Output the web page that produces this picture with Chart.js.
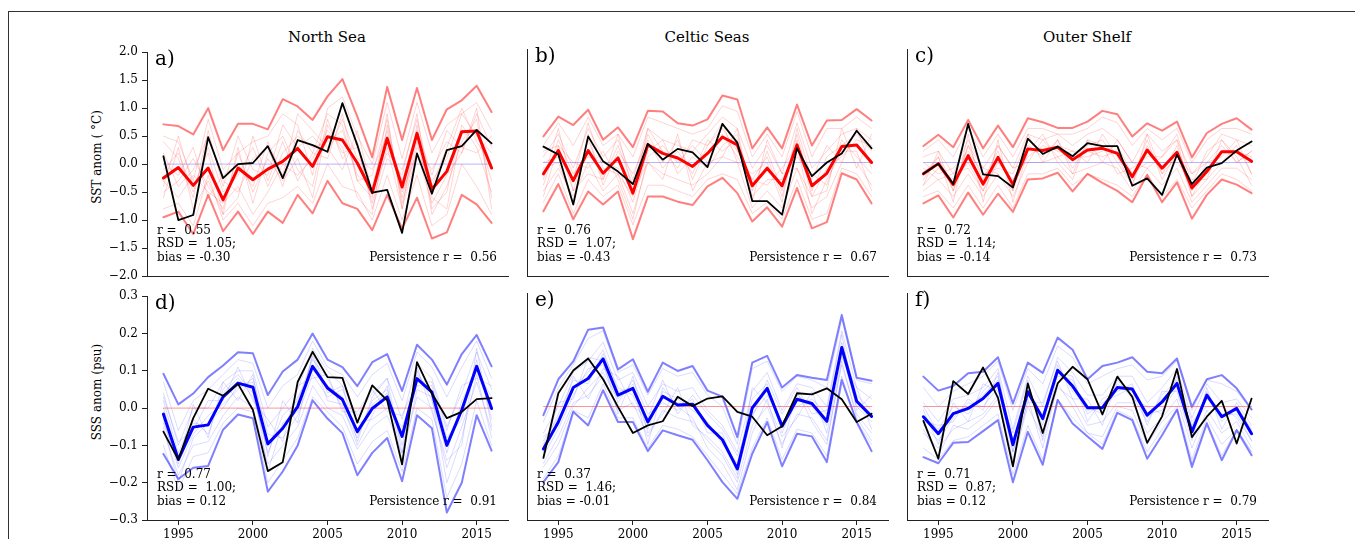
<!DOCTYPE html>
<html>
<head>
<meta charset="utf-8">
<script src="https://cdn.jsdelivr.net/npm/chart.js@4.4.1/dist/chart.umd.min.js"></script>
<style>
  html, body { margin:0; padding:0; background:#fff; }
  body { width:1355px; height:539px; position:relative; overflow:hidden; font-family:"DejaVu Serif", serif; }
  .frame { position:absolute; left:8px; top:11px; right:-5px; bottom:-5px; border-left:1.3px solid #333; border-top:1.3px solid #333; }
  .panel { position:absolute; }
  .title { position:absolute; font-size:15px; color:#000; transform:translateX(-50%); white-space:nowrap; line-height:1; }
  .ylab { position:absolute; font-size:12px; color:#000; white-space:nowrap; transform:translate(-50%,-50%) rotate(-90deg); line-height:1; }
</style>
</head>
<body>
<div class="frame"></div>
<div class="title" style="left:327px; top:30px;">North Sea</div>
<div class="title" style="left:707px; top:30px;">Celtic Seas</div>
<div class="title" style="left:1087px; top:30px;">Outer Shelf</div>
<div class="ylab" style="left:97px; top:157px;">SST anom ( °C)</div>
<div class="ylab" style="left:97px; top:392px;">SSS anom (psu)</div>

<script>
// ---------------- DATA ----------------
const years = [1994,1995,1996,1997,1998,1999,2000,2001,2002,2003,2004,2005,2006,2007,2008,2009,2010,2011,2012,2013,2014,2015,2016];

const sstTicks = [-2.0,-1.5,-1.0,-0.5,0.0,0.5,1.0,1.5,2.0];
const sstTickLabels = ['\u22122.0','\u22121.5','\u22121.0','\u22120.5','0.0','0.5','1.0','1.5','2.0'];
const sssTicks = [-0.3,-0.2,-0.1,0.0,0.1,0.2,0.3];
const sssTickLabels = ['\u22120.3','\u22120.2','\u22120.1','0.0','0.1','0.2','0.3'];
const yearTicks = [1995,2000,2005,2010,2015];
const yearTickLabels = ['1995','2000','2005','2010','2015'];

const panelLetters = ['a)','b)','c)','d)','e)','f)'];
const statR = [' 0.55',' 0.76',' 0.72',' 0.77',' 0.37',' 0.71'];
const statRSD = [' 1.05',' 1.07',' 1.14',' 1.00',' 1.46',' 0.87'];
const statBias = ['-0.30','-0.43','-0.14','0.12','-0.01','0.12'];
const statPersistence = [' 0.56',' 0.67',' 0.73',' 0.91',' 0.84',' 0.79'];

// a) North Sea SST
const nsSstMean  = [-0.25,-0.06,-0.38,-0.07,-0.64,-0.07,-0.28,-0.09,0.05,0.28,-0.04,0.49,0.43,0.02,-0.51,0.46,-0.41,0.55,-0.45,-0.13,0.58,0.59,-0.07];
const nsSstUpper = [0.71,0.68,0.53,1.0,0.25,0.72,0.72,0.62,1.16,1.03,0.79,1.21,1.52,0.85,0.12,1.38,0.43,1.36,0.43,0.98,1.14,1.4,0.93];
const nsSstLower = [-0.95,-0.85,-1.25,-0.55,-1.2,-0.85,-1.25,-0.85,-1.05,-0.55,-0.88,-0.3,-0.7,-0.8,-1.18,-0.55,-1.15,-0.6,-1.33,-1.22,-0.55,-0.72,-1.05];
const nsSstObs   = [0.14,-1.0,-0.91,0.48,-0.25,0.0,0.02,0.32,-0.25,0.43,0.34,0.22,1.09,0.34,-0.51,-0.46,-1.23,0.19,-0.53,0.25,0.32,0.61,0.37];
const nsSstMembers = [
  [0.2,-0.4,-0.1,0.5,-0.3,-0.5,0.1,0.3,-0.4,0.6,0.2,0.1,0.9,-0.3,-0.2,0.8,-0.7,0.3,-0.1,0.4,0.2,0.9,0.3],
  [-0.6,0.3,-0.8,-0.3,-0.9,0.3,-0.7,0.2,0.5,-0.1,-0.4,0.8,0.1,0.4,-0.8,0.1,-0.2,0.9,-0.8,-0.5,0.7,0.3,-0.5],
  [-0.1,0.2,-0.5,0.3,-0.5,-0.2,0.3,-0.4,0.2,0.5,0.3,0.4,0.6,-0.2,-0.4,0.6,-0.5,0.2,-0.3,0.1,0.9,0.5,0.2],
  [-0.5,-0.3,0.1,-0.4,-0.8,0.2,-0.5,0.1,-0.3,0.1,-0.6,0.7,0.2,0.3,-0.7,0.3,-0.8,0.7,-0.9,-0.4,0.4,0.8,-0.6],
  [0.4,0.1,-0.6,0.6,-0.4,0.5,-0.1,-0.2,0.7,0.3,0.5,0.2,0.8,0.1,-0.1,0.5,-0.3,0.6,-0.2,0.6,0.3,0.2,0.5],
  [-0.3,-0.6,-0.2,-0.5,-0.7,-0.4,-0.9,-0.5,0.0,-0.2,0.1,0.6,0.3,-0.6,-0.9,0.7,-0.6,0.4,-0.6,-0.8,0.6,0.6,-0.3],
  [0.5,0.4,-0.3,0.8,-0.1,0.2,0.4,0.5,0.9,0.7,-0.2,1.0,1.2,0.5,0.0,1.1,0.1,1.1,0.2,0.7,0.9,1.1,0.6],
  [-0.8,-0.7,-1.1,-0.2,-1.0,-0.7,-1.1,-0.7,-0.6,-0.4,-0.7,0.0,-0.4,-0.5,-1.0,-0.2,-1.0,-0.2,-1.1,-0.9,0.0,-0.4,-0.9],
  [0.0,-0.2,0.3,-0.6,-0.2,0.0,-0.4,0.4,-0.2,0.9,0.6,0.3,-0.1,0.6,-0.5,0.2,-0.1,0.8,-0.4,0.3,1.0,0.4,0.0],
  [-0.4,0.5,-0.4,0.2,-0.9,-0.6,0.5,-0.3,0.4,-0.3,0.2,0.9,0.7,-0.3,-0.6,0.9,-0.8,0.2,-0.7,-0.2,0.2,1.0,-0.8]
];

// b) Celtic Seas SST
const csSstMean  = [-0.2,0.21,-0.32,0.21,-0.19,0.08,-0.54,0.31,0.16,0.08,-0.07,0.16,0.45,0.31,-0.41,-0.1,-0.41,0.31,-0.41,-0.19,0.28,0.31,0.0];
const csSstUpper = [0.46,0.81,0.66,0.93,0.4,0.62,0.27,0.91,0.9,0.69,0.65,0.76,1.18,1.11,0.25,0.62,0.25,1.02,0.3,0.74,0.75,0.94,0.74];
const csSstLower = [-0.86,-0.38,-1.0,-0.51,-0.74,-0.51,-1.35,-0.6,-0.6,-0.69,-0.75,-0.42,-0.27,-0.54,-1.04,-0.79,-1.13,-0.45,-1.16,-1.05,-0.19,-0.3,-0.72];
const csSstObs   = [0.28,0.14,-0.74,0.46,0.02,-0.16,-0.38,0.33,0.05,0.24,0.18,-0.08,0.68,0.35,-0.68,-0.68,-0.92,0.25,-0.24,0.0,0.16,0.56,0.25];
const csSstMembers = [
  [0.1,0.5,-0.1,0.6,0.1,0.4,-0.3,0.6,0.4,0.3,0.2,0.5,0.8,0.6,-0.1,0.3,-0.2,0.7,-0.1,0.2,0.5,0.6,0.4],
  [-0.5,-0.1,-0.6,0.0,-0.5,-0.2,-0.9,0.0,-0.2,-0.3,-0.4,-0.2,0.1,0.0,-0.8,-0.5,-0.8,-0.1,-0.8,-0.6,0.0,0.0,-0.4],
  [0.2,0.3,-0.5,0.4,-0.3,0.3,-0.4,0.5,0.0,0.4,-0.3,0.3,0.6,0.2,-0.3,0.1,-0.6,0.5,-0.5,0.1,0.3,0.5,0.2],
  [-0.4,0.4,-0.2,0.1,0.0,-0.1,-0.7,0.2,0.4,-0.2,0.1,-0.1,0.3,0.5,-0.6,-0.3,-0.3,0.1,-0.2,-0.4,0.4,0.1,-0.2],
  [-0.1,0.0,-0.7,0.5,-0.4,0.2,-0.2,0.4,-0.1,0.2,-0.2,0.4,0.2,0.4,-0.5,0.2,-0.5,0.4,-0.6,-0.1,0.1,0.4,0.3],
  [-0.6,0.3,0.0,-0.1,0.2,-0.3,-1.0,0.1,0.3,0.0,0.3,0.0,0.5,0.1,-0.3,-0.4,-0.1,0.3,-0.9,-0.3,0.2,0.2,-0.5],
  [0.3,0.7,0.3,0.8,0.3,0.5,0.1,0.8,0.7,0.6,0.5,0.6,1.0,0.9,0.1,0.5,0.1,0.9,0.1,0.6,0.6,0.8,0.6],
  [-0.7,-0.2,-0.9,-0.3,-0.6,-0.4,-1.1,-0.4,-0.4,-0.5,-0.6,-0.3,-0.2,-0.3,-0.9,-0.7,-1.0,-0.3,-1.0,-0.9,-0.1,-0.2,-0.6],
  [0.0,0.1,-0.3,0.7,-0.1,-0.2,-0.6,0.6,0.2,-0.1,0.4,0.3,0.7,0.0,-0.2,0.0,-0.7,0.6,-0.3,0.3,0.0,0.6,-0.1],
  [-0.3,0.6,-0.5,-0.2,-0.3,0.5,-0.5,0.0,-0.3,0.5,-0.5,0.0,0.1,0.6,-0.7,0.4,-0.2,-0.1,-0.6,-0.5,0.6,-0.1,0.5]
];

// c) Outer Shelf SST
const osSstMean  = [-0.2,-0.02,-0.39,0.12,-0.38,0.09,-0.39,0.24,0.21,0.27,0.05,0.22,0.25,0.16,-0.25,0.22,-0.1,0.18,-0.45,-0.16,0.19,0.19,0.02];
const osSstUpper = [0.29,0.49,0.27,0.75,0.25,0.65,0.27,0.78,0.71,0.61,0.61,0.72,0.91,0.85,0.46,0.69,0.56,0.72,0.09,0.52,0.68,0.78,0.58];
const osSstLower = [-0.72,-0.58,-0.97,-0.53,-0.92,-0.55,-0.87,-0.3,-0.28,-0.18,-0.51,-0.2,-0.36,-0.5,-0.7,-0.22,-0.7,-0.35,-0.99,-0.57,-0.3,-0.39,-0.54];
const osSstObs   = [-0.2,-0.02,-0.38,0.68,-0.21,-0.24,-0.44,0.42,0.15,0.28,0.11,0.34,0.29,0.29,-0.41,-0.28,-0.57,0.14,-0.38,-0.09,-0.01,0.21,0.37];
const osSstMembers = [
  [0.1,0.2,-0.2,0.4,-0.1,0.3,-0.1,0.5,0.4,0.5,0.3,0.5,0.6,0.4,0.0,0.5,0.2,0.4,-0.2,0.1,0.5,0.4,0.3],
  [-0.5,-0.3,-0.6,-0.2,-0.6,-0.2,-0.6,0.0,0.0,0.1,-0.2,-0.1,0.0,-0.1,-0.5,-0.1,-0.4,-0.1,-0.7,-0.4,-0.1,-0.1,-0.3],
  [-0.2,0.1,-0.5,0.3,-0.3,0.2,-0.5,0.3,0.1,0.4,-0.1,0.3,0.4,0.0,-0.4,0.3,-0.2,0.3,-0.5,0.0,0.3,0.0,0.2],
  [-0.4,-0.1,-0.3,0.0,-0.5,0.0,-0.3,0.1,0.3,0.2,0.1,0.1,0.2,0.3,-0.2,0.0,0.0,0.0,-0.3,-0.3,0.0,0.3,-0.2],
  [0.0,-0.2,-0.1,0.2,-0.2,-0.1,-0.2,0.4,0.2,0.3,0.2,0.2,0.1,0.2,-0.3,0.4,-0.3,0.2,-0.6,-0.1,0.2,0.2,0.1],
  [-0.3,0.1,-0.7,0.5,-0.7,0.4,-0.7,0.2,0.5,0.0,-0.3,0.4,0.3,-0.2,-0.1,0.1,0.1,0.5,-0.4,0.2,0.4,0.1,-0.4],
  [0.2,0.4,0.1,0.6,0.1,0.5,0.1,0.6,0.6,0.5,0.5,0.6,0.8,0.7,0.3,0.6,0.4,0.6,0.0,0.4,0.6,0.6,0.5],
  [-0.6,-0.5,-0.8,-0.4,-0.8,-0.4,-0.8,-0.2,-0.2,-0.1,-0.4,-0.2,-0.3,-0.4,-0.6,-0.2,-0.6,-0.3,-0.8,-0.5,-0.2,-0.3,-0.5],
  [-0.1,-0.3,-0.2,-0.1,-0.5,0.3,-0.1,0.0,0.4,0.1,0.2,0.0,0.5,0.1,-0.4,0.5,-0.2,0.1,-0.2,0.0,0.1,0.4,-0.2],
  [-0.4,0.2,-0.5,0.3,-0.1,-0.2,-0.5,0.5,0.0,0.4,-0.2,0.4,0.0,0.4,0.0,-0.1,0.1,0.4,-0.6,-0.3,0.4,0.0,0.2]
];

// d) North Sea SSS
const nsSssMean  = [-0.016,-0.138,-0.051,-0.045,0.03,0.067,0.056,-0.096,-0.054,0.004,0.112,0.054,0.023,-0.063,-0.001,0.03,-0.076,0.079,0.043,-0.1,-0.005,0.112,-0.001];
const nsSssUpper = [0.092,0.01,0.039,0.083,0.114,0.15,0.147,0.035,0.098,0.13,0.2,0.13,0.11,0.059,0.123,0.145,0.046,0.17,0.13,0.063,0.145,0.196,0.112];
const nsSssLower = [-0.123,-0.19,-0.16,-0.155,-0.058,-0.017,-0.027,-0.224,-0.17,-0.1,0.021,-0.028,-0.067,-0.18,-0.12,-0.08,-0.196,-0.019,-0.054,-0.28,-0.2,-0.019,-0.114];
const nsSssObs   = [-0.063,-0.138,-0.027,0.052,0.033,0.065,-0.005,-0.169,-0.145,0.07,0.151,0.083,0.081,-0.039,0.061,0.021,-0.151,0.123,0.039,-0.027,-0.01,0.024,0.027];
const nsSssMembers = [
  [0.04,-0.1,0.0,0.0,0.07,0.1,0.1,-0.05,0.0,0.05,0.16,0.1,0.06,-0.02,0.04,0.08,-0.03,0.12,0.08,-0.05,0.04,0.15,0.05],
  [-0.06,-0.18,-0.1,-0.09,-0.02,0.03,0.0,-0.15,-0.1,-0.05,0.06,0.0,-0.02,-0.11,-0.05,-0.02,-0.12,0.03,0.0,-0.16,-0.05,0.07,-0.06],
  [0.02,-0.12,-0.03,-0.07,0.05,0.09,0.04,-0.12,-0.02,0.02,0.13,0.08,0.0,-0.08,0.02,0.05,-0.1,0.1,0.02,-0.12,0.02,0.1,0.03],
  [-0.03,-0.16,-0.07,-0.02,0.01,0.05,0.08,-0.07,-0.08,-0.02,0.09,0.03,0.05,-0.04,-0.03,0.0,-0.05,0.06,0.06,-0.08,-0.03,0.13,-0.03],
  [0.0,-0.13,-0.04,-0.05,0.04,0.08,0.03,-0.1,-0.06,0.03,0.1,0.06,0.03,-0.07,0.01,0.04,-0.08,0.09,0.04,-0.1,0.0,0.11,0.01],
  [-0.05,-0.2,-0.08,-0.04,0.0,0.06,0.07,-0.17,-0.04,-0.01,0.14,0.02,0.01,-0.1,-0.02,0.06,-0.14,0.05,0.03,-0.2,-0.08,0.09,-0.08],
  [0.07,-0.06,0.02,0.05,0.09,0.13,0.12,0.0,0.06,0.09,0.18,0.11,0.09,0.03,0.09,0.12,0.02,0.15,0.11,0.03,0.11,0.18,0.08],
  [-0.1,-0.22,-0.13,-0.12,-0.04,0.0,-0.01,-0.2,-0.14,-0.08,0.03,-0.01,-0.05,-0.15,-0.09,-0.06,-0.17,0.0,-0.03,-0.24,-0.15,0.02,-0.1],
  [0.03,-0.09,-0.06,0.02,0.02,0.11,0.02,-0.03,-0.09,0.06,0.08,0.09,-0.01,-0.01,0.05,-0.01,-0.02,0.07,0.07,-0.06,0.06,0.08,0.06],
  [-0.04,-0.15,0.01,-0.08,0.07,0.02,0.09,-0.13,0.02,-0.04,0.15,0.04,0.06,-0.09,0.03,0.08,-0.12,0.11,-0.01,-0.14,-0.1,0.16,-0.05]
];

// e) Celtic Seas SSS
const csSssMean  = [-0.112,-0.041,0.05,0.074,0.126,0.03,0.048,-0.041,0.027,0.004,0.006,-0.05,-0.088,-0.165,-0.004,0.048,-0.052,0.019,0.008,-0.039,0.156,0.014,-0.026];
const csSssUpper = [-0.023,0.072,0.119,0.203,0.209,0.098,0.125,0.039,0.116,0.094,0.107,0.042,0.026,-0.081,0.116,0.134,0.05,0.083,0.076,0.07,0.242,0.076,0.068];
const csSssLower = [-0.2,-0.147,-0.014,-0.05,0.043,-0.041,-0.041,-0.118,-0.063,-0.076,-0.088,-0.142,-0.2,-0.244,-0.125,-0.041,-0.158,-0.072,-0.079,-0.147,0.07,-0.041,-0.118];
const csSssObs   = [-0.136,0.035,0.095,0.127,0.072,-0.001,-0.07,-0.05,-0.039,0.026,0.001,0.021,0.027,-0.014,-0.027,-0.076,-0.052,0.035,0.032,0.048,0.019,-0.041,-0.019];
const csSssMembers = [
  [-0.07,0.0,0.09,0.12,0.17,0.07,0.09,0.0,0.06,0.04,0.05,-0.01,-0.05,-0.12,0.04,0.09,-0.01,0.06,0.05,0.0,0.2,0.05,0.02],
  [-0.15,-0.08,0.01,0.03,0.08,-0.01,0.01,-0.08,-0.01,-0.03,-0.04,-0.09,-0.13,-0.2,-0.05,0.0,-0.1,-0.02,-0.03,-0.09,0.11,-0.02,-0.07],
  [-0.1,-0.02,0.07,0.06,0.14,0.05,0.03,-0.06,0.04,0.02,-0.01,-0.04,-0.1,-0.15,0.02,0.06,-0.07,0.03,0.0,-0.05,0.17,0.03,-0.01],
  [-0.13,-0.06,0.03,0.1,0.11,0.01,0.07,-0.02,0.01,-0.01,0.02,-0.07,-0.07,-0.18,-0.02,0.03,-0.04,0.0,0.02,-0.02,0.14,0.0,-0.04],
  [-0.09,-0.03,0.05,0.09,0.15,0.04,0.05,-0.04,0.03,0.01,0.0,-0.05,-0.09,-0.16,0.0,0.05,-0.05,0.02,0.01,-0.04,0.16,0.02,-0.02],
  [-0.16,-0.1,0.0,0.05,0.09,0.02,0.06,-0.1,0.05,0.0,-0.03,-0.11,-0.15,-0.22,-0.07,0.02,-0.11,0.04,-0.04,-0.1,0.12,-0.03,-0.09],
  [-0.04,0.05,0.11,0.18,0.2,0.09,0.11,0.03,0.1,0.08,0.09,0.03,0.0,-0.1,0.1,0.12,0.04,0.08,0.07,0.05,0.23,0.07,0.06],
  [-0.19,-0.13,-0.01,-0.03,0.06,-0.03,-0.03,-0.11,-0.05,-0.06,-0.08,-0.13,-0.18,-0.23,-0.11,-0.03,-0.14,-0.06,-0.07,-0.13,0.08,-0.04,-0.1],
  [-0.08,-0.05,0.08,0.02,0.1,0.08,0.0,-0.03,0.07,-0.02,0.03,-0.02,-0.06,-0.13,-0.03,0.07,-0.02,0.05,-0.02,-0.01,0.19,-0.01,0.03],
  [-0.12,0.01,0.02,0.13,0.12,-0.02,0.08,-0.07,-0.02,0.05,-0.05,-0.08,-0.12,-0.19,0.05,0.01,-0.08,-0.03,0.04,-0.07,0.13,0.05,-0.06]
];

// f) Outer Shelf SSS
const osSssMean  = [-0.027,-0.072,-0.019,-0.005,0.021,0.061,-0.101,0.039,-0.032,0.096,0.054,-0.003,-0.003,0.05,0.046,-0.023,0.012,0.061,-0.067,0.03,-0.027,-0.005,-0.072];
const osSssUpper = [0.079,0.042,0.054,0.088,0.092,0.13,0.008,0.116,0.089,0.182,0.15,0.072,0.107,0.116,0.13,0.092,0.088,0.127,-0.001,0.072,0.083,0.048,-0.008];
const osSssLower = [-0.134,-0.15,-0.096,-0.094,-0.065,-0.036,-0.2,-0.067,-0.154,0.017,-0.045,-0.079,-0.112,-0.017,-0.036,-0.138,-0.076,-0.008,-0.16,-0.045,-0.142,-0.063,-0.129];
const osSssObs   = [-0.038,-0.138,0.067,0.033,0.103,0.023,-0.158,0.061,-0.07,0.061,0.105,0.072,-0.021,0.079,0.026,-0.096,-0.026,0.099,-0.081,-0.027,0.015,-0.098,0.021];
const osSssMembers = [
  [0.01,-0.04,0.02,0.03,0.05,0.1,-0.06,0.08,0.0,0.13,0.09,0.03,0.03,0.08,0.08,0.01,0.05,0.1,-0.03,0.06,0.01,0.02,-0.03],
  [-0.07,-0.11,-0.06,-0.04,-0.02,0.03,-0.14,0.0,-0.08,0.05,0.02,-0.05,-0.04,0.01,0.01,-0.07,-0.03,0.02,-0.11,-0.01,-0.07,-0.04,-0.11],
  [-0.03,-0.06,0.0,-0.02,0.04,0.08,-0.09,0.05,-0.05,0.11,0.04,0.0,-0.02,0.06,0.03,-0.04,0.03,0.07,-0.08,0.04,-0.04,0.0,-0.06],
  [-0.05,-0.09,-0.03,0.01,0.0,0.05,-0.12,0.03,-0.02,0.08,0.07,-0.02,0.01,0.03,0.05,-0.02,-0.01,0.05,-0.05,0.02,-0.02,-0.02,-0.09],
  [0.0,-0.07,-0.02,-0.01,0.03,0.07,-0.1,0.04,-0.03,0.1,0.05,-0.01,0.0,0.05,0.04,-0.03,0.02,0.06,-0.07,0.03,-0.03,-0.01,-0.07],
  [-0.06,-0.13,-0.05,-0.06,-0.03,0.02,-0.16,0.02,-0.11,0.06,0.0,-0.07,-0.08,0.0,-0.01,-0.1,-0.04,0.0,-0.14,-0.03,-0.1,-0.06,-0.12],
  [0.05,0.0,0.04,0.06,0.08,0.12,-0.01,0.1,0.06,0.16,0.13,0.06,0.08,0.1,0.11,0.07,0.08,0.12,-0.01,0.07,0.06,0.04,-0.01],
  [-0.11,-0.14,-0.09,-0.08,-0.05,-0.02,-0.18,-0.05,-0.14,0.02,-0.03,-0.07,-0.1,-0.01,-0.03,-0.12,-0.06,-0.01,-0.15,-0.04,-0.13,-0.06,-0.12],
  [-0.01,-0.1,0.01,-0.04,0.06,0.04,-0.07,0.07,-0.09,0.09,0.08,-0.04,0.02,0.04,0.06,-0.05,0.04,0.04,-0.09,0.05,-0.06,0.01,-0.05],
  [-0.04,-0.05,-0.04,0.02,-0.01,0.09,-0.12,0.01,0.01,0.12,0.02,0.02,-0.05,0.07,0.02,0.0,-0.02,0.08,-0.04,0.0,0.0,-0.03,-0.09]
];

// ---------------- CHARTS ----------------
const AX_W = 361, AX_H = 227, PAD_L = 70, PAD_T = 8, PAD_R = 8, PAD_B = 26;
const FONT = '"DejaVu Serif", serif';

const panelText = {
  id: 'panelText',
  afterDraw(chart, args, o) {
    const ctx = chart.ctx, a = chart.chartArea;
    ctx.save();
    ctx.fillStyle = '#000';
    ctx.textBaseline = 'alphabetic';
    ctx.font = '20px ' + FONT;
    ctx.textAlign = 'left';
    ctx.fillText(o.letter, a.left + 8, a.top + 13);
    ctx.font = '12px ' + FONT;
    ctx.fillText('r = ' + o.r, a.left + 10, a.bottom - 42.5);
    ctx.fillText('RSD = ' + o.rsd + ';', a.left + 10, a.bottom - 29);
    ctx.fillText('bias = ' + o.bias, a.left + 10, a.bottom - 15.5);
    ctx.textAlign = 'right';
    ctx.fillText('Persistence r = ' + o.pers, a.right - 11, a.bottom - 15.5);
    ctx.restore();
  }
};

function line(vals, color, width, order) {
  return {
    data: years.map((x, i) => ({ x: x, y: vals[i] })),
    borderColor: color, borderWidth: width, pointRadius: 0, fill: false,
    order: order, borderJoinStyle: 'round', borderCapStyle: 'round', tension: 0
  };
}

const panels = [
  { mean: nsSstMean, up: nsSstUpper, lo: nsSstLower, obs: nsSstObs, mem: nsSstMembers, kind: 'sst', col: 0, row: 0 },
  { mean: csSstMean, up: csSstUpper, lo: csSstLower, obs: csSstObs, mem: csSstMembers, kind: 'sst', col: 1, row: 0 },
  { mean: osSstMean, up: osSstUpper, lo: osSstLower, obs: osSstObs, mem: osSstMembers, kind: 'sst', col: 2, row: 0 },
  { mean: nsSssMean, up: nsSssUpper, lo: nsSssLower, obs: nsSssObs, mem: nsSssMembers, kind: 'sss', col: 0, row: 1 },
  { mean: csSssMean, up: csSssUpper, lo: csSssLower, obs: csSssObs, mem: csSssMembers, kind: 'sss', col: 1, row: 1 },
  { mean: osSssMean, up: osSssUpper, lo: osSssLower, obs: osSssObs, mem: osSssMembers, kind: 'sss', col: 2, row: 1 }
];
const axLefts = [147, 527, 907];
const axTops = [49, 293];

panels.forEach((p, idx) => {
  const L = axLefts[p.col], T = axTops[p.row];
  const div = document.createElement('div');
  div.className = 'panel';
  const cw = PAD_L + AX_W + PAD_R, ch = PAD_T + AX_H + PAD_B;
  div.style.left = (L - PAD_L) + 'px';
  div.style.top = (T - PAD_T) + 'px';
  div.style.width = cw + 'px';
  div.style.height = ch + 'px';
  const cv = document.createElement('canvas');
  cv.width = cw; cv.height = ch;
  cv.style.width = cw + 'px'; cv.style.height = ch + 'px';
  div.appendChild(cv);
  document.body.appendChild(div);

  const sst = p.kind === 'sst';
  const main = sst ? '#ff0000' : '#0000ff';
  const env = sst ? 'rgba(255,0,0,0.5)' : 'rgba(0,0,255,0.5)';
  const memCol = sst ? 'rgba(255,0,0,0.22)' : 'rgba(0,0,255,0.18)';
  const zeroCol = sst ? 'rgba(90,90,255,0.45)' : 'rgba(255,60,60,0.55)';
  const zeros = years.map(() => 0);

  const datasets = [];
  datasets.push(line(p.obs, '#000000', 1.8, 0));
  datasets.push(line(p.mean, main, 3, 1));
  datasets.push(line(zeros, zeroCol, 1, 2));
  datasets.push(line(p.up, env, 2, 3));
  datasets.push(line(p.lo, env, 2, 3));
  p.mem.forEach(m => datasets.push(line(m, memCol, 0.8, 4)));

  const yT = sst ? sstTicks : sssTicks;
  const yL = sst ? sstTickLabels : sssTickLabels;
  const showY = p.col === 0;
  const showX = p.row === 1;

  new Chart(cv, {
    type: 'line',
    data: { datasets },
    plugins: [panelText],
    options: {
      responsive: false, animation: false, devicePixelRatio: 1,
      layout: { padding: { left: 0, top: PAD_T, right: PAD_R, bottom: 0 } },
      plugins: {
        legend: { display: false }, tooltip: { enabled: false }, title: { display: false },
        panelText: { letter: panelLetters[idx], r: statR[idx], rsd: statRSD[idx], bias: statBias[idx], pers: statPersistence[idx] }
      },
      scales: {
        x: {
          type: 'linear', min: 1992.9, max: 2017.1, offset: false,
          afterBuildTicks: s => { s.ticks = yearTicks.map(v => ({ value: v })); },
          afterFit: s => { s.height = PAD_B; },
          grid: { display: true, drawOnChartArea: false, drawTicks: showX, tickLength: 5, tickColor: '#222', tickWidth: 1 },
          border: { display: true, color: '#222', width: 1 },
          ticks: { display: showX, padding: 3, color: '#000', font: { family: FONT, size: 12 }, maxRotation: 0, autoSkip: false,
                   callback: (v, i) => yearTickLabels[i] }
        },
        y: {
          type: 'linear', min: yT[0], max: yT[yT.length - 1],
          afterBuildTicks: s => { s.ticks = yT.map(v => ({ value: v })); },
          afterFit: s => { s.width = PAD_L; },
          grid: { display: true, drawOnChartArea: false, drawTicks: showY, tickLength: 5, tickColor: '#222', tickWidth: 1 },
          border: { display: true, color: '#222', width: 1 },
          ticks: { display: showY, padding: 4, color: '#000', font: { family: FONT, size: 12 }, autoSkip: false,
                   callback: (v, i) => yL[i] }
        }
      }
    }
  });
});
</script>
</body>
</html>
